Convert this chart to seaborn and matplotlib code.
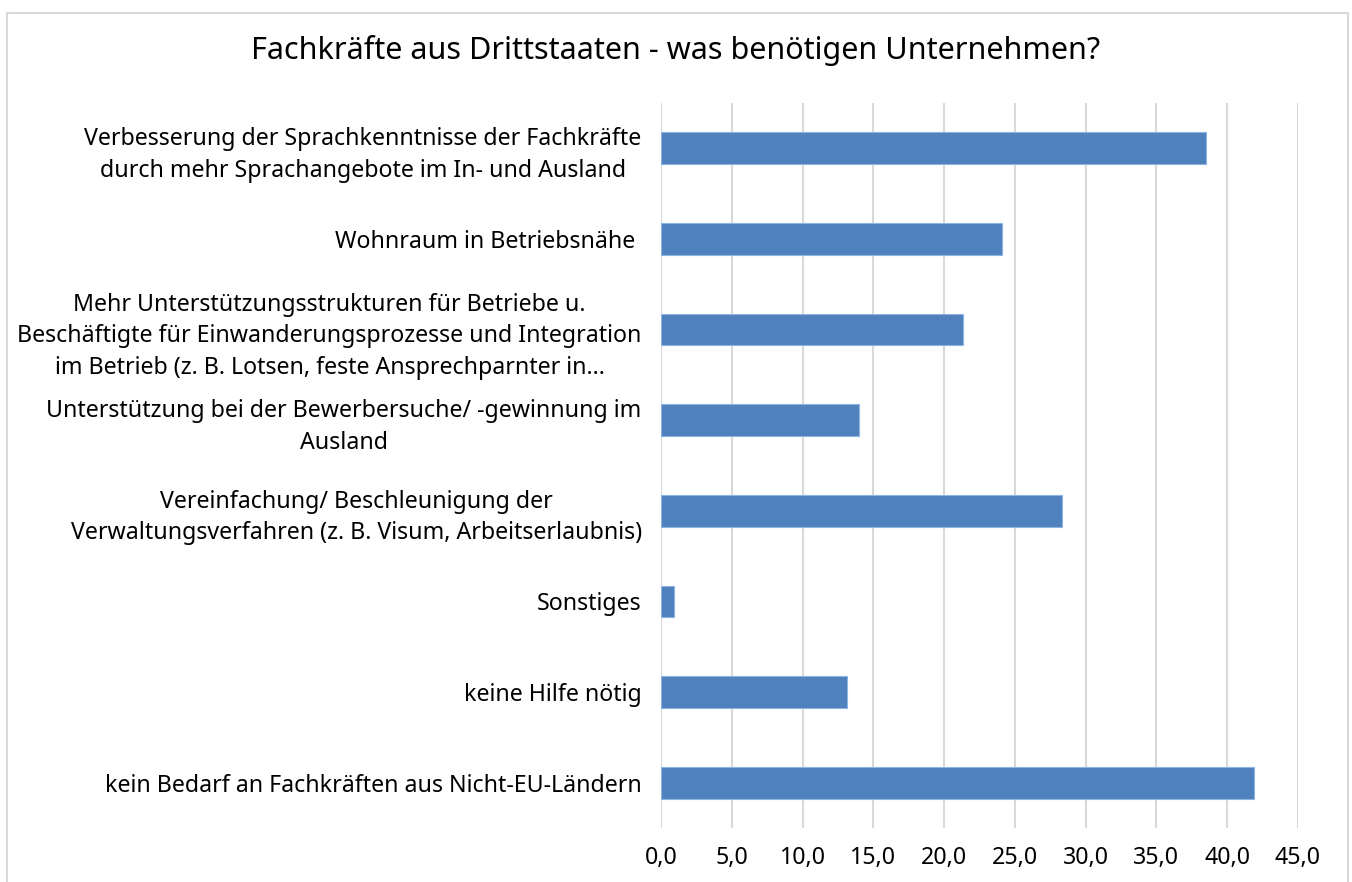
import matplotlib
matplotlib.use("Agg")
import matplotlib.pyplot as plt
import matplotlib.ticker as mticker
from matplotlib.patches import Rectangle
import seaborn as sns
import pandas as pd

# Daten
kategorien = [
    "Verbesserung der Sprachkenntnisse der Fachkräfte\ndurch mehr Sprachangebote im In- und Ausland",
    "Wohnraum in Betriebsnähe ",
    "Mehr Unterstützungsstrukturen für Betriebe u.\nBeschäftigte für Einwanderungsprozesse und Integration\nim Betrieb (z. B. Lotsen, feste Ansprechparnter in...",
    "Unterstützung bei der Bewerbersuche/ -gewinnung im\nAusland",
    "Vereinfachung/ Beschleunigung der\nVerwaltungsverfahren (z. B. Visum, Arbeitserlaubnis)",
    "Sonstiges",
    "keine Hilfe nötig",
    "kein Bedarf an Fachkräften aus Nicht-EU-Ländern",
]
werte = [38.5, 24.1, 21.3, 14.0, 28.3, 0.9, 13.1, 41.9]
x_ticks = [0, 5, 10, 15, 20, 25, 30, 35, 40, 45]

df = pd.DataFrame({"kategorie": kategorien, "wert": werte})

sns.set_style("white")
plt.rcParams['font.family'] = ['Noto Sans', 'DejaVu Sans']
plt.rcParams['text.color'] = 'black'

fig = plt.figure(figsize=(13.52, 8.82), dpi=100)
ax = fig.add_axes([0.489, 0.0612, 0.471, 0.822])

sns.barplot(data=df, x="wert", y="kategorie", orient="h", color="#4f81bd",
            width=0.35, edgecolor="#8eb4e3", linewidth=0.8, saturation=1, ax=ax)

ax.set_xlim(0, 45)
ax.set_ylim(7.5, -0.5)
ax.set_xticks(x_ticks)
ax.xaxis.set_major_formatter(mticker.FuncFormatter(lambda v, p: f"{v:.1f}".replace(".", ",")))
ax.grid(axis="x", color="#d9d9d9", linewidth=1.5)
ax.set_axisbelow(True)
for s in ax.spines.values():
    s.set_visible(False)
ax.tick_params(axis="both", length=0, labelsize=16.7, colors="black")
ax.tick_params(axis="y", pad=14)
ax.tick_params(axis="x", pad=13)
for lbl in ax.get_yticklabels():
    lbl.set_multialignment("center")
    lbl.set_linespacing(1.42)
ax.set_xlabel("")
ax.set_ylabel("")

fig.suptitle("Fachkräfte aus Drittstaaten - was benötigen Unternehmen?",
             x=0.5, y=0.943, va="center", fontsize=22, color="black")

# Rahmen um das Diagramm
fig.patches.append(Rectangle((7 / 1352, -0.05), 1341 / 1352, 1.05 - 13 / 882,
                             transform=fig.transFigure, fill=False,
                             edgecolor="#d9d9d9", linewidth=1.5))

fig.savefig("out.png", dpi=100)
